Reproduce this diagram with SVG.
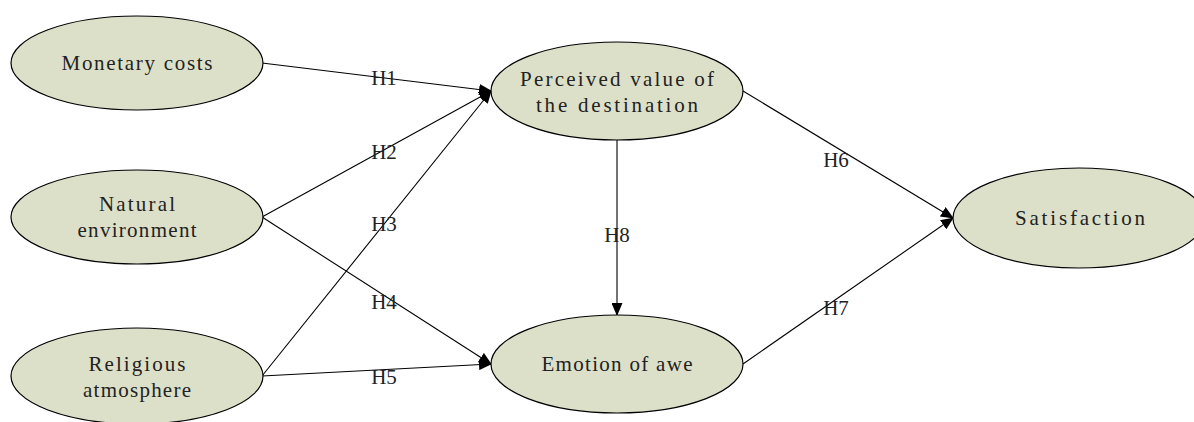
<svg xmlns="http://www.w3.org/2000/svg" width="1194" height="422" viewBox="0 0 1194 422">
<style>
.node ellipse{fill:#dde0c9;stroke:#000;stroke-width:1.2}
text{font-family:"Liberation Serif","DejaVu Serif",serif;font-size:21px;fill:#222;text-anchor:middle}
.edge{stroke:#000;stroke-width:1.1;fill:none;marker-end:url(#ah)}
</style>
<defs>
<marker id="ah" markerWidth="13" markerHeight="11" refX="12" refY="5.5" orient="auto" markerUnits="userSpaceOnUse">
<path d="M0,0 L13,5.5 L0,11 Z" fill="#000"/>
</marker>
</defs>
<rect width="1194" height="422" fill="#fff"/>
<g id="connectors">
<line class="edge" x1="262" y1="63" x2="491" y2="91"/>
<line class="edge" x1="262" y1="217" x2="491" y2="91"/>
<line class="edge" x1="262" y1="376" x2="491" y2="91"/>
<line class="edge" x1="262" y1="217" x2="491" y2="364"/>
<line class="edge" x1="262" y1="376" x2="491" y2="364"/>
<line class="edge" x1="743" y1="91" x2="953" y2="218"/>
<line class="edge" x1="743" y1="364" x2="953" y2="218"/>
<line class="edge" x1="617" y1="140" x2="617" y2="315"/>
<text x="384" y="85">H1</text>
<text x="384" y="159">H2</text>
<text x="384" y="231">H3</text>
<text x="384" y="309">H4</text>
<text x="384" y="384">H5</text>
<text x="836" y="167">H6</text>
<text x="836" y="315">H7</text>
<text x="617" y="242">H8</text>
</g>
<g id="monetary" class="node"><ellipse cx="137" cy="63" rx="126" ry="47"/><text x="137" y="70" textLength="151">Monetary costs</text></g>
<g id="natural" class="node"><ellipse cx="137" cy="217" rx="126" ry="47"/><text x="137" y="211" textLength="76">Natural</text><text x="137" y="237" textLength="119">environment</text></g>
<g id="religious" class="node"><ellipse cx="137" cy="376" rx="126" ry="48"/><text x="137" y="371" textLength="97">Religious</text><text x="137" y="397" textLength="108">atmosphere</text></g>
<g id="perceived" class="node"><ellipse cx="617" cy="91" rx="126" ry="49"/><text x="617" y="86" textLength="194">Perceived value of</text><text x="617" y="112" textLength="162">the destination</text></g>
<g id="awe" class="node"><ellipse cx="617" cy="364" rx="126" ry="49"/><text x="617" y="371" textLength="151">Emotion of awe</text></g>
<g id="satisfaction" class="node"><ellipse cx="1079" cy="218" rx="126" ry="50"/><text x="1080" y="225" textLength="130">Satisfaction</text></g>
</svg>
